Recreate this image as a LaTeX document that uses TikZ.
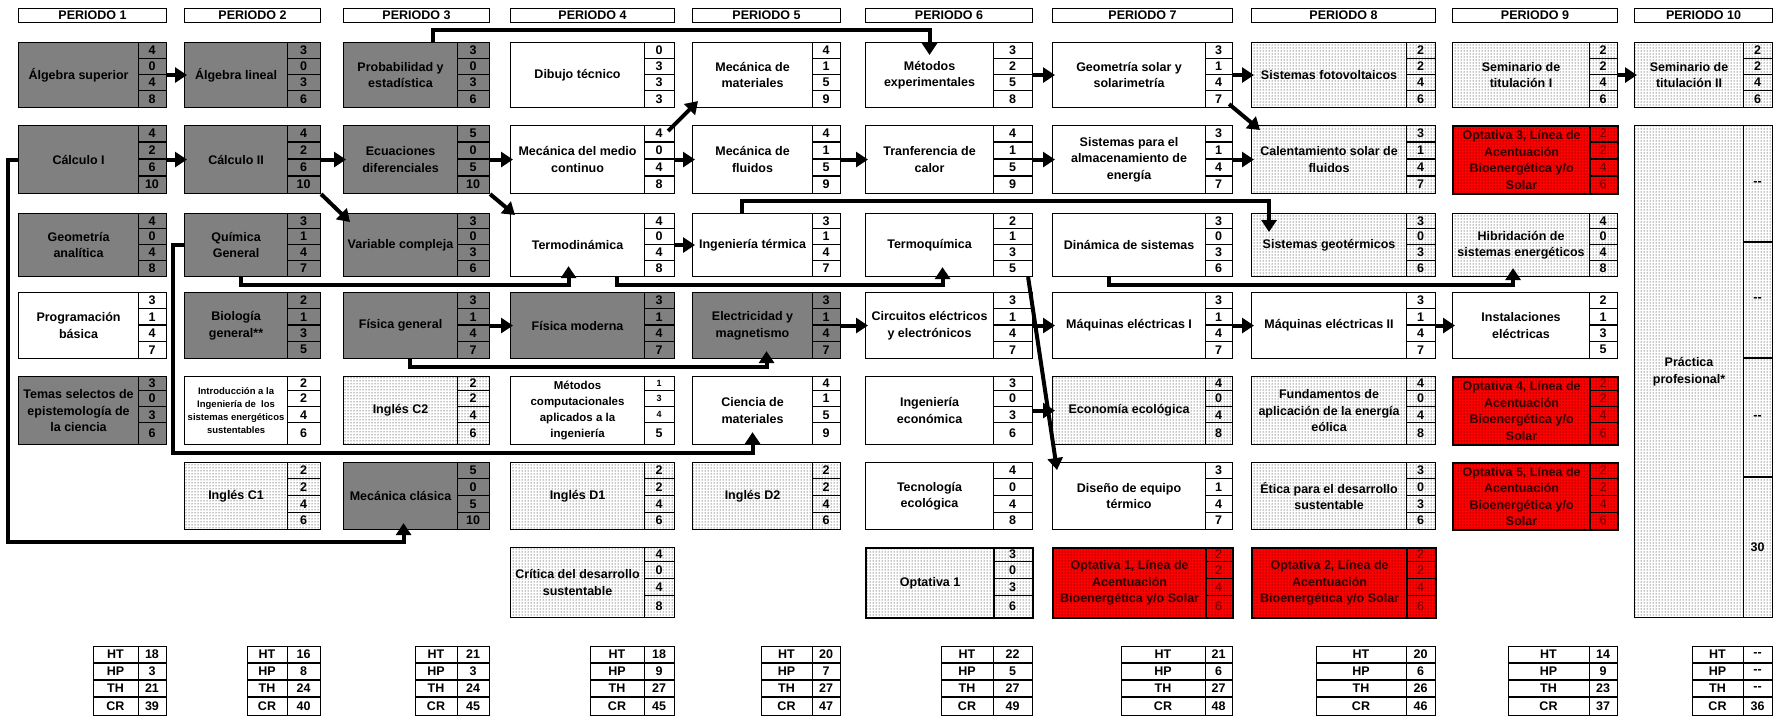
\documentclass[tikz,border=0pt]{standalone}
\usepackage{fontspec}
\setmainfont{Liberation Sans}
\usetikzlibrary{arrows.meta,patterns}
\definecolor{boxgray}{RGB}{128,128,128}
\definecolor{rednum}{RGB}{110,0,0}
\definecolor{redtxt}{RGB}{50,0,0}
\newcommand\fsMain{\bfseries\fontsize{12.5}{16.5}\selectfont}
\newcommand\fsMid{\bfseries\fontsize{11.5}{16}\selectfont}
\newcommand\fsSmall{\bfseries\fontsize{9.5}{12.8}\selectfont}
\newcommand\fsTiny{\bfseries\fontsize{9}{10}\selectfont}
\newcommand\fsRed{\fontsize{12.5}{16.5}\selectfont}
\def\CL{{18,184,343,510,692,865,1052,1251,1452,1634}}
\def\CN{{138,287,457,644,812,993,1205,1406,1589,1743}}
\def\CR{{166,320,489,674,840,1032,1232,1435,1617,1772}}
\def\RT{{42,125,213,292,376,462,547}}
\def\RB{{107,193,276,358,444,529,617}}
\def\FA{{.25,.25,.25,.25,.21,.25,.21}}
\def\FB{{.5,.5,.5,.5,.45,.5,.45}}
\def\FC{{.75,.75,.75,.75,.69,.75,.69}}
\tikzset{
  box/.style={draw=black, line width=1.1pt, inner sep=1pt, align=center, font=\fsMain},
  gbox/.style={box, fill=boxgray},
  wbox/.style={box, fill=white},
  wboxs/.style={wbox, font=\fsSmall},
  wboxm/.style={wbox, font=\fsMid},
  dbox/.style={box, fill=white, postaction={pattern=dots}},
  obox/.style={box, line width=2.2pt, fill=white, postaction={pattern=dots}},
  rbox/.style={box, line width=2.2pt, fill=red, postaction={pattern=dots}, text=redtxt},
  num/.style={font=\fsMain, inner sep=0pt},
  n-gbox/.style={}, n-wbox/.style={}, n-wboxs/.style={}, n-wboxm/.style={},
  n-dbox/.style={}, n-obox/.style={},
  n-rbox/.style={text=rednum, font=\fsRed},
  cl/.style={line width=1.1pt},
  hdr/.style={draw=black, line width=1pt, inner sep=0pt, minimum height=14pt, font=\fsMain},
  sbox/.style={draw=black, line width=1.1pt, minimum height=69pt, inner sep=0pt},
  stxt/.style={font=\fsMain, inner sep=0pt},
  arr/.style={line width=4pt, -{Triangle[length=12pt,width=15pt]}},
  harr/.style={arr, shorten >=-3pt}
}
\newcommand\mkcourse[9]{%
  \pgfmathtruncatemacro\ci{#2-1}%
  \pgfmathtruncatemacro\ri{#3-1}%
  \pgfmathsetmacro\xl{\CL[\ci]}%
  \pgfmathsetmacro\xn{\CN[\ci]}%
  \pgfmathsetmacro\xr{\CR[\ci]}%
  \pgfmathsetmacro\yt{\RT[\ri]}%
  \pgfmathsetmacro\yb{\RB[\ri]}%
  \pgfmathsetmacro\hh{\yb-\yt}%
  \pgfmathsetmacro\yA{\yt+\FA[\ri]*\hh}%
  \pgfmathsetmacro\yB{\yt+\FB[\ri]*\hh}%
  \pgfmathsetmacro\yC{\yt+\FC[\ri]*\hh}%
  \pgfmathsetmacro\wm{\xn-\xl}%
  \pgfmathsetmacro\wn{\xr-\xn}%
  \pgfmathsetmacro\xm{(\xn+\xr)/2}%
  \pgfmathsetmacro\cyA{(\yt+\yA)/2}%
  \pgfmathsetmacro\cyB{(\yA+\yB)/2}%
  \pgfmathsetmacro\cyC{(\yB+\yC)/2}%
  \pgfmathsetmacro\cyD{(\yC+\yb)/2}%
  \node[#4, minimum width=\wm pt, minimum height=\hh pt, anchor=north west] (#1) at (\xl,\yt) {#5};%
  \node[#4, minimum width=\wn pt, minimum height=\hh pt, anchor=north west] (#1n) at (\xn,\yt) {};%
  \draw[cl] (\xn,\yA) -- (\xr,\yA) (\xn,\yB) -- (\xr,\yB) (\xn,\yC) -- (\xr,\yC);%
  \node[num,n-#4] (#1a) at (\xm,\cyA) {#6};%
  \node[num,n-#4] (#1b) at (\xm,\cyB) {#7};%
  \node[num,n-#4] (#1c) at (\xm,\cyC) {#8};%
  \node[num,n-#4] (#1d) at (\xm,\cyD) {#9};%
}
\newcommand\mksum[6]{%
  \pgfmathtruncatemacro\ci{#1-1}%
  \pgfmathsetmacro\xn{\CN[\ci]}%
  \pgfmathsetmacro\xr{\CR[\ci]}%
  \pgfmathsetmacro\wl{\xn-#2}%
  \pgfmathsetmacro\wv{\xr-\xn}%
  \pgfmathsetmacro\xa{(#2+\xn)/2}%
  \pgfmathsetmacro\xb{(\xn+\xr)/2}%
  \node[sbox, minimum width=\wl pt, anchor=north west] (sl#1) at (#2,646) {};%
  \node[sbox, minimum width=\wv pt, anchor=north west] (sv#1) at (\xn,646) {};%
  \draw[cl] (#2,663) -- (\xr,663) (#2,680) -- (\xr,680) (#2,697) -- (\xr,697);%
  \node[stxt] (sHT#1) at (\xa,654.5) {HT};%
  \node[stxt] (sHP#1) at (\xa,671.5) {HP};%
  \node[stxt] (sTH#1) at (\xa,688.5) {TH};%
  \node[stxt] (sCR#1) at (\xa,706) {CR};%
  \node[stxt] (vHT#1) at (\xb,654.5) {#3};%
  \node[stxt] (vHP#1) at (\xb,671.5) {#4};%
  \node[stxt] (vTH#1) at (\xb,688.5) {#5};%
  \node[stxt] (vCR#1) at (\xb,706) {#6};%
}
\begin{document}
\begin{tikzpicture}[x=1pt,y=-1pt]
\useasboundingbox (0,0) rectangle (1781,717);
% headers
\foreach \i in {1,...,10}{
  \pgfmathtruncatemacro\ci{\i-1}
  \pgfmathsetmacro\xl{\CL[\ci]}
  \pgfmathsetmacro\xr{\CR[\ci]}
  \pgfmathsetmacro\wh{\xr-\xl}
  \node[hdr, minimum width=\wh pt, anchor=north west] (hdr\i) at (\xl,8) {PERIODO \i};
}
% Periodo 1
\mkcourse{algsup}{1}{1}{gbox}{Álgebra superior}{4}{0}{4}{8}
\mkcourse{calc1}{1}{2}{gbox}{Cálculo I}{4}{2}{6}{10}
\mkcourse{geoan}{1}{3}{gbox}{Geometría\\analítica}{4}{0}{4}{8}
\mkcourse{prog}{1}{4}{wbox}{Programación\\básica}{3}{1}{4}{7}
\mkcourse{temas}{1}{5}{gbox}{Temas selectos de\\epistemología de\\la ciencia}{3}{0}{3}{6}
% Periodo 2
\mkcourse{alglin}{2}{1}{gbox}{Álgebra lineal}{3}{0}{3}{6}
\mkcourse{calc2}{2}{2}{gbox}{Cálculo II}{4}{2}{6}{10}
\mkcourse{quim}{2}{3}{gbox}{Química\\General}{3}{1}{4}{7}
\mkcourse{bio}{2}{4}{gbox}{Biología\\general**}{2}{1}{3}{5}
\mkcourse{intro}{2}{5}{wboxs}{Introducción a la\\Ingeniería de~ los\\sistemas energéticos\\sustentables}{2}{2}{4}{6}
\mkcourse{ingc1}{2}{6}{dbox}{Inglés C1}{2}{2}{4}{6}
% Periodo 3
\mkcourse{prob}{3}{1}{gbox}{Probabilidad y\\estadística}{3}{0}{3}{6}
\mkcourse{ecdif}{3}{2}{gbox}{Ecuaciones\\diferenciales}{5}{0}{5}{10}
\mkcourse{varc}{3}{3}{gbox}{Variable compleja}{3}{0}{3}{6}
\mkcourse{fisgen}{3}{4}{gbox}{Física general}{3}{1}{4}{7}
\mkcourse{ingc2}{3}{5}{dbox}{Inglés C2}{2}{2}{4}{6}
\mkcourse{mecc}{3}{6}{gbox}{Mecánica clásica}{5}{0}{5}{10}
% Periodo 4
\mkcourse{dibujo}{4}{1}{wbox}{Dibujo técnico}{0}{3}{3}{3}
\mkcourse{mmc}{4}{2}{wbox}{Mecánica del medio\\continuo}{4}{0}{4}{8}
\mkcourse{termo}{4}{3}{wbox}{Termodinámica}{4}{0}{4}{8}
\mkcourse{fismod}{4}{4}{gbox}{Física moderna}{3}{1}{4}{7}
\mkcourse{metcomp}{4}{5}{wboxm}{Métodos\\computacionales\\aplicados a la\\ingeniería}{\fsTiny 1}{\fsTiny 3}{\fsTiny 4}{5}
\mkcourse{ingd1}{4}{6}{dbox}{Inglés D1}{2}{2}{4}{6}
\mkcourse{critica}{4}{7}{dbox}{Crítica del desarrollo\\sustentable}{4}{0}{4}{8}
% Periodo 5
\mkcourse{mecmat}{5}{1}{wbox}{Mecánica de\\materiales}{4}{1}{5}{9}
\mkcourse{mecflu}{5}{2}{wbox}{Mecánica de\\fluidos}{4}{1}{5}{9}
\mkcourse{ingterm}{5}{3}{wbox}{Ingeniería térmica}{3}{1}{4}{7}
\mkcourse{elec}{5}{4}{gbox}{Electricidad y\\magnetismo}{3}{1}{4}{7}
\mkcourse{cienc}{5}{5}{wbox}{Ciencia de\\materiales}{4}{1}{5}{9}
\mkcourse{ingd2}{5}{6}{dbox}{Inglés D2}{2}{2}{4}{6}
% Periodo 6
\mkcourse{metexp}{6}{1}{wbox}{Métodos\\experimentales}{3}{2}{5}{8}
\mkcourse{transf}{6}{2}{wbox}{Tranferencia de\\calor}{4}{1}{5}{9}
\mkcourse{termoq}{6}{3}{wbox}{Termoquímica}{2}{1}{3}{5}
\mkcourse{circ}{6}{4}{wbox}{Circuitos eléctricos\\y electrónicos}{3}{1}{4}{7}
\mkcourse{ingeco}{6}{5}{wbox}{Ingeniería\\económica}{3}{0}{3}{6}
\mkcourse{tecno}{6}{6}{wbox}{Tecnología\\ecológica}{4}{0}{4}{8}
\mkcourse{opt1}{6}{7}{obox}{Optativa 1}{3}{0}{3}{6}
% Periodo 7
\mkcourse{geosol}{7}{1}{wbox}{Geometría solar y\\solarimetría}{3}{1}{4}{7}
\mkcourse{almac}{7}{2}{wbox}{Sistemas para el\\almacenamiento de\\energía}{3}{1}{4}{7}
\mkcourse{dinam}{7}{3}{wbox}{Dinámica de sistemas}{3}{0}{3}{6}
\mkcourse{maq1}{7}{4}{wbox}{Máquinas eléctricas I}{3}{1}{4}{7}
\mkcourse{ecoeco}{7}{5}{dbox}{Economía ecológica}{4}{0}{4}{8}
\mkcourse{diseno}{7}{6}{wbox}{Diseño de equipo\\térmico}{3}{1}{4}{7}
\mkcourse{optA}{7}{7}{rbox}{Optativa 1, Línea de\\Acentuación\\Bioenergética y/o Solar}{2}{2}{4}{6}
% Periodo 8
\mkcourse{fotov}{8}{1}{dbox}{Sistemas fotovoltaicos}{2}{2}{4}{6}
\mkcourse{calsol}{8}{2}{dbox}{Calentamiento solar de\\fluidos}{3}{1}{4}{7}
\mkcourse{geot}{8}{3}{dbox}{Sistemas geotérmicos}{3}{0}{3}{6}
\mkcourse{maq2}{8}{4}{wbox}{Máquinas eléctricas II}{3}{1}{4}{7}
\mkcourse{eolica}{8}{5}{dbox}{Fundamentos de\\aplicación de la energía\\eólica}{4}{0}{4}{8}
\mkcourse{etica}{8}{6}{dbox}{Ética para el desarrollo\\sustentable}{3}{0}{3}{6}
\mkcourse{optB}{8}{7}{rbox}{Optativa 2, Línea de\\Acentuación\\Bioenergética y/o Solar}{2}{2}{4}{6}
% Periodo 9
\mkcourse{sem1}{9}{1}{dbox}{Seminario de\\titulación I}{2}{2}{4}{6}
\mkcourse{optC}{9}{2}{rbox}{Optativa 3, Línea de\\Acentuación\\Bioenergética y/o\\Solar}{2}{2}{4}{6}
\mkcourse{hibr}{9}{3}{dbox}{Hibridación de\\sistemas energéticos}{4}{0}{4}{8}
\mkcourse{inst}{9}{4}{wbox}{Instalaciones\\eléctricas}{2}{1}{3}{5}
\mkcourse{optD}{9}{5}{rbox}{Optativa 4, Línea de\\Acentuación\\Bioenergética y/o\\Solar}{2}{2}{4}{6}
\mkcourse{optE}{9}{6}{rbox}{Optativa 5, Línea de\\Acentuación\\Bioenergética y/o\\Solar}{2}{2}{4}{6}
% Periodo 10
\mkcourse{sem2}{10}{1}{dbox}{Seminario de\\titulación II}{2}{2}{4}{6}
\node[dbox, minimum width=109pt, minimum height=492pt, anchor=north west] (prac) at (1634,125) {Práctica\\profesional*};
\node[dbox, minimum width=29pt, minimum height=492pt, anchor=north west] (pracn) at (1743,125) {};
\draw[cl] (1743,242) -- (1772,242) (1743,358) -- (1772,358) (1743,477) -- (1772,477);
\node[num] (praca) at (1757.5,183.5) {-{}-};
\node[num] (pracb) at (1757.5,300) {-{}-};
\node[num] (pracc) at (1757.5,417.5) {-{}-};
\node[num] (pracd) at (1757.5,547) {30};
% summary tables
\mksum{1}{93}{18}{3}{21}{39}
\mksum{2}{247}{16}{8}{24}{40}
\mksum{3}{415}{21}{3}{24}{45}
\mksum{4}{590}{18}{9}{27}{45}
\mksum{5}{761}{20}{7}{27}{47}
\mksum{6}{941}{22}{5}{27}{49}
\mksum{7}{1121}{21}{6}{27}{48}
\mksum{8}{1316}{20}{6}{26}{46}
\mksum{9}{1508}{14}{9}{23}{37}
\mksum{10}{1692}{-{}-}{-{}-}{-{}-}{36}
% arrows
\draw[harr] (algsupn.east) -- (alglin.west);
\draw[harr] (calc1n.east) -- (calc2.west);
\draw[harr] (calc2n.east) -- (ecdif.west);
\draw[arr] (calc2n.south east) -- ([xshift=7pt,yshift=-9pt]varc.north west);
\draw[arr] ([xshift=32pt]prob.north) -- ++(0,-12) -| ([yshift=-13pt]metexp.north);
\draw[harr] (ecdifn.east) -- (mmc.west);
\draw[arr] (ecdifn.south east) -- ([xshift=5pt,yshift=-2pt]termo.north west);
\draw[arr] ([xshift=-7pt,yshift=-6pt]mmcn.north east) -- ([xshift=6pt,yshift=7pt]mecmat.south west);
\draw[harr] (mmcn.east) -- (mecflu.west);
\draw[harr] (mecflun.east) -- (transf.west);
\draw[harr] (transfn.east) -- (almac.west);
\draw[harr] (metexpn.east) -- (geosol.west);
\draw[harr] (geosoln.east) -- (fotov.west);
\draw[arr] ([xshift=-4pt,yshift=4pt]geosoln.south east) -- ([xshift=9pt,yshift=-5pt]calsol.north west);
\draw[harr] (almacn.east) -- (calsol.west);
\draw[harr] (termon.east) -- (ingterm.west);
\draw[arr] ([xshift=-11pt]ingterm.north) -- ++(0,-12) -| ([xshift=-60pt,yshift=-19pt]geot.north);
\draw[arr] ([xshift=5pt]quim.south) -- ++(0,8) -| ([xshift=-9pt,yshift=11pt]termo.south);
\draw[arr] ([xshift=39pt]termo.south) -- ++(0,8) -| ([xshift=13pt,yshift=10pt]termoq.south);
\draw[arr] ([xshift=9pt]fisgen.south) -- ++(0,8) -| ([xshift=14pt,yshift=8pt]elec.south);
\draw[harr] (fisgenn.east) -- (fismod.west);
\draw[harr] (elecn.east) -- (circ.west);
\draw[harr] (circn.east) -- (maq1.west);
\draw[harr] (maq1n.east) -- (maq2.west);
\draw[harr] (maq2n.east) -- (inst.west);
\draw[arr] ([xshift=-20pt]dinam.south) -- ++(0,8) -| ([xshift=-8pt,yshift=9pt]hibr.south);
\draw[arr] ([xshift=-5pt]termoqn.south east) -- ([xshift=5pt,yshift=-8pt]diseno.north west);
\draw[harr] (ingecon.east) -- (ecoeco.west);
\draw[arr] (quim.west) -- ++(-11,0) |- ([yshift=-8pt]cienc.south) -- ([yshift=13pt]cienc.south);
\draw[arr] (calc1.west) -- ++(-10,0) |- ([xshift=3pt,yshift=-12pt]mecc.south) -- ([xshift=3pt,yshift=7pt]mecc.south);
\draw[harr] (sem1n.east) -- (sem2.west);
\end{tikzpicture}
\end{document}
